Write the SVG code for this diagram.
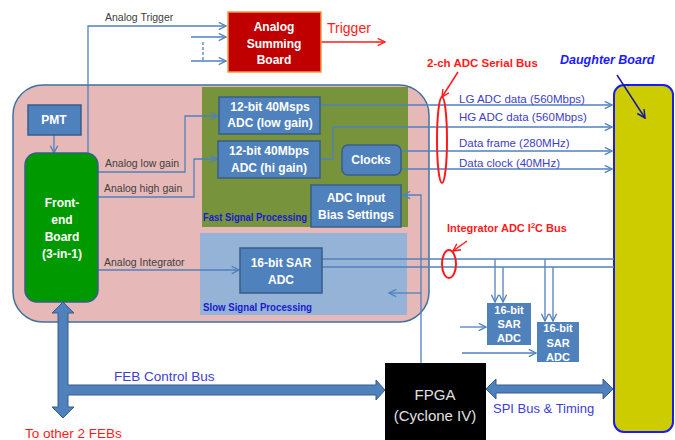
<svg xmlns="http://www.w3.org/2000/svg" width="675" height="440" viewBox="0 0 675 440">
<style>
text{font-family:"Liberation Sans",Arial,sans-serif}
.box{fill:#4f81bd;stroke:#385d8a;stroke-width:1.5}
.bt{fill:#fff;font-weight:bold;font-size:12px;text-anchor:middle}
.st{fill:#fff;font-weight:bold;font-size:11px;text-anchor:middle}
.ln{fill:none;stroke:#4f81bd;stroke-width:1.3}
.lbl{fill:#404040;font-size:10.5px}
.rl{fill:#3d3dc8;font-size:11.5px}
.sec{fill:#1a1ad0;font-weight:bold;font-size:10px}
.red{fill:none;stroke:#ff1a1a;stroke-width:2}
.thick{fill:#4f81bd;stroke:#385d8a;stroke-width:1}
</style>
<defs>
<marker id="a" viewBox="0 0 10 10" refX="9" refY="5" markerWidth="9" markerHeight="9" markerUnits="userSpaceOnUse" orient="auto"><path d="M1,1 L9,5 L1,9" fill="none" stroke="#4f81bd" stroke-width="1.5"/></marker>
<marker id="r" viewBox="0 0 10 10" refX="9" refY="5" markerWidth="9" markerHeight="9" markerUnits="userSpaceOnUse" orient="auto"><path d="M1,1 L9,5 L1,9" fill="none" stroke="#ff1a1a" stroke-width="1.5"/></marker>
<marker id="d" viewBox="0 0 10 10" refX="9" refY="5" markerWidth="10" markerHeight="10" markerUnits="userSpaceOnUse" orient="auto"><path d="M1,1 L9,5 L1,9" fill="none" stroke="#1a1aa0" stroke-width="1.5"/></marker>
</defs>

<g id="feb-container">
<rect x="13" y="85" width="416" height="237" rx="30" fill="#e6b9b8" stroke="#41719c" stroke-width="1.5"/>
</g>
<g id="fast-signal-processing">
<rect x="202" y="87" width="206" height="140" fill="#77933c"/>
<text class="sec" x="203" y="221" textLength="104" lengthAdjust="spacingAndGlyphs">Fast Signal Processing</text>
</g>
<g id="slow-signal-processing">
<rect x="200" y="233" width="207" height="82" fill="#95b3d7"/>
<text class="sec" x="203" y="311" textLength="109" lengthAdjust="spacingAndGlyphs">Slow Signal Processing</text>
</g>

<g id="daughter-board">
<rect x="614" y="85" width="59" height="347" rx="10" fill="#cccc00" stroke="#1a1aff" stroke-width="2"/>
</g>

<g id="connectors">
<path class="ln" d="M88,153 V26 H226" marker-end="url(#a)"/>
<path class="ln" d="M191,37 H226" marker-end="url(#a)"/>
<path class="ln" d="M191,61 H226" marker-end="url(#a)"/>
<path class="ln" d="M203,42 V60" stroke-dasharray="3,2"/>
<path class="ln" d="M54,135 V153" marker-end="url(#a)"/>
<path class="ln" d="M98,172 H185 V116 H218" marker-end="url(#a)"/>
<path class="ln" d="M98,197 H194 V159 H217" marker-end="url(#a)"/>
<path class="ln" d="M98,270 H239" marker-end="url(#a)"/>
<path class="ln" d="M320,105 H612" marker-end="url(#a)"/>
<path class="ln" d="M320,159 H333 V127 H612" marker-end="url(#a)"/>
<path class="ln" d="M401,151 H612" marker-end="url(#a)"/>
<path class="ln" d="M401,169 H612" marker-end="url(#a)"/>
<path class="ln" d="M322,259 H614"/>
<path class="ln" d="M322,267 H614"/>
<path class="ln" d="M495,259 V302" marker-end="url(#a)"/>
<path class="ln" d="M503,267 V302" marker-end="url(#a)"/>
<path class="ln" d="M545,259 V321" marker-end="url(#a)"/>
<path class="ln" d="M553,267 V321" marker-end="url(#a)"/>
<path class="ln" d="M460,327 H486" marker-end="url(#a)"/>
<path class="ln" d="M462,353 H536" marker-end="url(#a)"/>
<path class="ln" d="M421,363 V195 H403" stroke-width="2" marker-end="url(#a)"/>
<path class="ln" d="M421,293 H389" stroke-width="2" marker-end="url(#a)"/>
<path class="thick" d="M63,302 L74,313 L68,313 L68,385 L376,385 L376,380 L385,390 L376,400 L376,395 L68,395 L68,407 L74,407 L63,418 L52,407 L58,407 L58,313 L52,313 Z"/>
<path class="thick" d="M486,389 L496,379 L496,385 L603,385 L603,379 L613,389 L603,399 L603,393 L496,393 L496,399 Z"/>
<path d="M320,42 H385" fill="none" stroke="#ff1a1a" stroke-width="1.5" marker-end="url(#r)"/>
<path d="M458,72 L442,97" fill="none" stroke="#ff1a1a" stroke-width="1.5" marker-end="url(#r)"/>
<path d="M467,241 L453,251" fill="none" stroke="#ff1a1a" stroke-width="1.5" marker-end="url(#r)"/>
<path d="M617,75 L645,118" fill="none" stroke="#1a1aa0" stroke-width="1.5" marker-end="url(#d)"/>
<ellipse class="red" cx="442" cy="140" rx="5" ry="43"/>
<ellipse class="red" cx="449" cy="264" rx="7" ry="14"/>
</g>

<g id="analog-summing-board">
<rect x="228" y="12" width="93" height="60" fill="#c00000" stroke="#f79646" stroke-width="1.5"/>
<text class="bt" x="274" y="31">Analog</text>
<text class="bt" x="274" y="48">Summing</text>
<text class="bt" x="274" y="64">Board</text>
</g>
<g id="pmt">
<rect class="box" x="28" y="105" width="53" height="30"/>
<text class="bt" x="54" y="124">PMT</text>
</g>
<g id="front-end-board">
<rect x="25" y="153" width="73" height="149" rx="12" fill="#009a00" stroke="#385d8a" stroke-width="1.5"/>
<text class="bt" x="62" y="207">Front-</text>
<text class="bt" x="62" y="224">end</text>
<text class="bt" x="62" y="241">Board</text>
<text class="bt" x="62" y="258">(3-in-1)</text>
</g>
<g id="adc-low-gain">
<rect class="box" x="219" y="97" width="101" height="37"/>
<text class="bt" x="270" y="111">12-bit 40Msps</text>
<text class="bt" x="270" y="127">ADC (low gain)</text>
</g>
<g id="adc-hi-gain">
<rect class="box" x="218" y="141" width="102" height="37"/>
<text class="bt" x="269" y="155">12-bit 40Mbps</text>
<text class="bt" x="269" y="172">ADC (hi gain)</text>
</g>
<g id="clocks">
<rect class="box" x="342" y="145" width="59" height="30" rx="6"/>
<text class="bt" x="371" y="164">Clocks</text>
</g>
<g id="adc-input-bias">
<rect class="box" x="311" y="185" width="90" height="42"/>
<text class="bt" x="356" y="202">ADC Input</text>
<text class="bt" x="356" y="219">Bias Settings</text>
</g>
<g id="sar-adc-main">
<rect class="box" x="240" y="248" width="82" height="45"/>
<text class="bt" x="281" y="267">16-bit SAR</text>
<text class="bt" x="281" y="284">ADC</text>
</g>
<g id="sar-adc-1">
<rect x="487" y="303" width="44" height="42" fill="#4f81bd"/>
<text class="st" x="509" y="314">16-bit</text>
<text class="st" x="509" y="328">SAR</text>
<text class="st" x="509" y="342">ADC</text>
</g>
<g id="sar-adc-2">
<rect x="537" y="322" width="42" height="40" fill="#4f81bd"/>
<text class="st" x="558" y="332">16-bit</text>
<text class="st" x="558" y="347">SAR</text>
<text class="st" x="558" y="361">ADC</text>
</g>
<g id="fpga">
<rect x="385" y="363" width="101" height="80" fill="#000"/>
<text x="435" y="400" fill="#e0e0e0" font-size="15" text-anchor="middle">FPGA</text>
<text x="435" y="421" fill="#e0e0e0" font-size="15" text-anchor="middle">(Cyclone IV)</text>
</g>

<g id="labels">
<text class="lbl" x="105" y="21">Analog Trigger</text>
<text class="lbl" x="105" y="167">Analog low gain</text>
<text class="lbl" x="104" y="192">Analog high gain</text>
<text class="lbl" x="104" y="266">Analog Integrator</text>
<text class="rl" x="459" y="103">LG ADC data (560Mbps)</text>
<text class="rl" x="459" y="121">HG ADC data (560Mbps)</text>
<text class="rl" x="459" y="147">Data frame (280MHz)</text>
<text class="rl" x="459" y="167">Data clock (40MHz)</text>
<text x="327" y="33" fill="#ff1a1a" font-size="14">Trigger</text>
<text x="427" y="67" fill="#ff1a1a" font-size="11.5" font-weight="bold">2-ch ADC Serial Bus</text>
<text x="560" y="64" fill="#1a1aff" font-size="12.5" font-weight="bold" font-style="italic">Daughter Board</text>
<text x="447" y="232" fill="#ff1a1a" font-size="11" font-weight="bold">Integrator ADC I<tspan font-size="7.5" dy="-4">2</tspan><tspan dy="4">C Bus</tspan></text>
<text x="114" y="381" fill="#3d3dd8" font-size="13.5">FEB Control Bus</text>
<text x="25" y="438" fill="#ff1a1a" font-size="13.5">To other 2 FEBs</text>
<text x="493" y="413" fill="#3d3dd8" font-size="13">SPI Bus &amp; Timing</text>
</g>
</svg>
